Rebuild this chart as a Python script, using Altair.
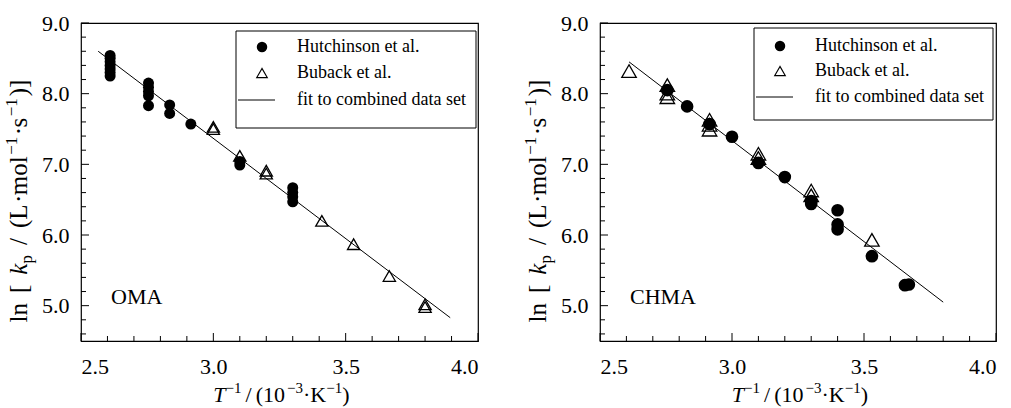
import altair as alt
import pandas as pd

FONT = "Liberation Serif"

# ---------------- data ----------------
# OMA panel
oma_hutch_x = [2.61, 2.61, 2.61, 2.61, 2.61, 2.61, 2.61,
               2.755, 2.755, 2.755, 2.755, 2.755,
               2.835, 2.835, 2.915, 3.10, 3.10,
               3.30, 3.30, 3.30, 3.30]
oma_hutch_y = [8.25, 8.30, 8.35, 8.40, 8.45, 8.50, 8.54,
               7.83, 7.97, 8.03, 8.09, 8.15,
               7.72, 7.84, 7.57, 6.99, 7.04,
               6.47, 6.54, 6.60, 6.67]
oma_buback_x = [3.00, 3.00, 3.10, 3.20, 3.20, 3.41, 3.53, 3.665, 3.80, 3.80]
oma_buback_y = [7.50, 7.53, 7.12, 6.87, 6.91, 6.20, 5.87, 5.42, 4.98, 5.02]
oma_fit_x = [2.565, 3.895]
oma_fit_y = [8.60, 4.83]

# CHMA panel
chma_hutch_x = [2.755, 2.83, 2.915, 3.00, 3.10, 3.20, 3.30, 3.30,
                3.40, 3.40, 3.40, 3.53, 3.655, 3.67]
chma_hutch_y = [8.05, 7.82, 7.57, 7.39, 7.02, 6.82, 6.44, 6.48,
                6.35, 6.15, 6.08, 5.70, 5.29, 5.30]
chma_buback_x = [2.61, 2.755, 2.755, 2.755, 2.915, 2.915, 2.915,
                 3.10, 3.10, 3.30, 3.30, 3.53]
chma_buback_y = [8.32, 8.12, 8.00, 7.95, 7.63, 7.56, 7.49,
                 7.15, 7.09, 6.63, 6.56, 5.93]
chma_fit_x = [2.61, 3.80]
chma_fit_y = [8.45, 5.05]

# axis ticks
x_major = [2.5, 3.0, 3.5, 4.0]
x_minor = [2.6, 2.7, 2.8, 2.9, 3.1, 3.2, 3.3, 3.4, 3.6, 3.7, 3.8, 3.9]
y_major = [5.0, 6.0, 7.0, 8.0, 9.0]
y_minor = [4.6, 4.8, 5.2, 5.4, 5.6, 5.8, 6.2, 6.4, 6.6, 6.8,
           7.2, 7.4, 7.6, 7.8, 8.2, 8.4, 8.6, 8.8]

legend_labels = ["Hutchinson et al.", "Buback et al.", "fit to combined data set"]

# ---------------- helpers ----------------
W = {' ': .25, 'l': .278, 'n': .5, '[': .333, ']': .333, '/': .278, '(': .333,
     ')': .333, 'L': .611, '·': .25, 'm': .778, 'o': .5, 's': .389, '1': .5,
     '0': .5, '3': .5, 'K': .722, 'T': .556, 'k': .444, 'p': .5, '−': .564}


def twidth(t, size):
    return sum(W.get(c, .5) for c in t) * size


ONE = pd.DataFrame({"d": [0]})


def rich(pieces, cx, cy, vertical=False):
    total = sum(twidth(t, s) + g for t, s, it, sh, g in pieces)
    cursor = cy + total / 2 if vertical else cx - total / 2
    layers = []
    for t, s, it, sh, g in pieces:
        w = twidth(t, s) + g
        if vertical:
            px, py, ang = cx + sh, cursor, 270
            cursor -= w
        else:
            px, py, ang = cursor, cy + sh, 0
            cursor += w
        layers.append(
            alt.Chart(ONE).mark_text(
                text=t, font=FONT, fontSize=s,
                fontStyle="italic" if it else "normal",
                align="left", baseline="alphabetic", angle=ang, color="black"
            ).encode(x=alt.value(px), y=alt.value(py))
        )
    return layers


def panel(hx, hy, bx, by, fx, fy, label, W_, H_, csize, tsize, leg):
    xs = alt.Scale(domain=[2.5, 4.0], nice=False, zero=False)
    ys = alt.Scale(domain=[4.5, 9.0], nice=False, zero=False)
    xax = alt.Axis(values=x_major, format=".1f", title=None, labelPadding=15)
    yax = alt.Axis(values=y_major, format=".1f", title=None, labelPadding=12)
    X = alt.X("x:Q", scale=xs, axis=xax)
    Y = alt.Y("y:Q", scale=ys, axis=yax)

    layers = []
    # inward ticks
    layers.append(alt.Chart(pd.DataFrame({"x": x_major})).mark_rule(color="black")
                  .encode(x=X, y=alt.value(H_), y2=alt.value(H_ - 8)))
    layers.append(alt.Chart(pd.DataFrame({"x": x_minor})).mark_rule(color="black")
                  .encode(x=X, y=alt.value(H_), y2=alt.value(H_ - 5)))
    layers.append(alt.Chart(pd.DataFrame({"y": y_major})).mark_rule(color="black")
                  .encode(y=Y, x=alt.value(0), x2=alt.value(8)))
    layers.append(alt.Chart(pd.DataFrame({"y": y_minor})).mark_rule(color="black")
                  .encode(y=Y, x=alt.value(0), x2=alt.value(5)))
    # fit line
    layers.append(alt.Chart(pd.DataFrame({"x": fx, "y": fy})).mark_line(
        color="black", strokeWidth=1).encode(x=X, y=Y))
    # data
    layers.append(alt.Chart(pd.DataFrame({"x": hx, "y": hy})).mark_point(
        shape="circle", filled=True, color="black", size=csize, opacity=1).encode(x=X, y=Y))
    layers.append(alt.Chart(pd.DataFrame({"x": bx, "y": by})).mark_point(
        shape="triangle-up", filled=False, color="black", strokeWidth=1.3,
        size=tsize, opacity=1).encode(x=X, y=Y))
    # legend
    x0, x1, y0, y1, rows = leg
    layers.append(alt.Chart(ONE).mark_rect(fill="white", stroke="black", strokeWidth=1)
                  .encode(x=alt.value(x0), x2=alt.value(x1), y=alt.value(y0), y2=alt.value(y1)))
    layers.append(alt.Chart(ONE).mark_point(shape="circle", filled=True, color="black",
                                            size=110, opacity=1)
                  .encode(x=alt.value(x0 + 26), y=alt.value(rows[0])))
    layers.append(alt.Chart(ONE).mark_point(shape="triangle-up", filled=False, color="black",
                                            strokeWidth=1.2, size=110, opacity=1)
                  .encode(x=alt.value(x0 + 26), y=alt.value(rows[1])))
    layers.append(alt.Chart(ONE).mark_rule(color="black", strokeWidth=1)
                  .encode(x=alt.value(x0 + 2), x2=alt.value(x0 + 39), y=alt.value(rows[2])))
    for lab, ry in zip(legend_labels, rows):
        layers.append(alt.Chart(ONE).mark_text(text=lab, font=FONT, fontSize=18, align="left",
                                               baseline="middle", color="black")
                      .encode(x=alt.value(x0 + 61), y=alt.value(ry)))
    # panel label
    layers.append(alt.Chart(ONE).mark_text(text=label, font=FONT, fontSize=22, align="left",
                                           baseline="alphabetic", color="black")
                  .encode(x=alt.value(30), y=alt.value(281)))
    # axis titles  (text, size, italic, baseline shift, gap after in px)
    ytitle = [("ln", 25, False, 0, 10), ("[", 25, False, 0, 10), ("k", 25, True, 0, 0),
              ("p", 17, False, 5, 10), ("/", 25, False, 0, 10), ("(L", 25, False, 0, 1.5),
              ("·", 25, False, 0, 1.5), ("mol", 25, False, 0, 1.5), ("−1", 17, False, -10, 1.5),
              ("·", 25, False, 0, 1.5), ("s", 25, False, 0, 1.5), ("−1", 17, False, -10, 2),
              (")]", 25, False, 0, 0)]
    xtitle = [("T", 22, True, 0, 0), ("−1", 15, False, -9, 4), ("/", 22, False, 0, 4),
              ("(10", 22, False, 0, 2), ("−3", 15, False, -9, 0), ("·K", 22, False, 0, 2),
              ("−1", 15, False, -9, 0), (")", 22, False, 0, 0)]
    layers += rich(ytitle, -54, 178, vertical=True)
    layers += rich(xtitle, W_ / 2 + 2, 379)
    return alt.layer(*layers).properties(width=W_, height=H_)


left = panel(oma_hutch_x, oma_hutch_y, oma_buback_x, oma_buback_y, oma_fit_x, oma_fit_y,
             "OMA", 397, 318, 121, 150, (155, 395, 8, 105, [24, 50, 77]))
right = panel(chma_hutch_x, chma_hutch_y, chma_buback_x, chma_buback_y, chma_fit_x, chma_fit_y,
              "CHMA", 396, 318, 160, 210, (154, 393, 5, 97, [23, 48, 74]))

chart = alt.hconcat(left, right, spacing=41).properties(
    padding={"left": 2, "top": 11, "right": 0, "bottom": 0}
).configure_view(stroke="black", strokeWidth=1.2).configure_axis(
    ticks=False, domain=False, grid=False, labelFont=FONT, labelFontSize=22,
    labelColor="black"
)

chart.save("out.html", embed_options={"renderer": "svg", "actions": False})
